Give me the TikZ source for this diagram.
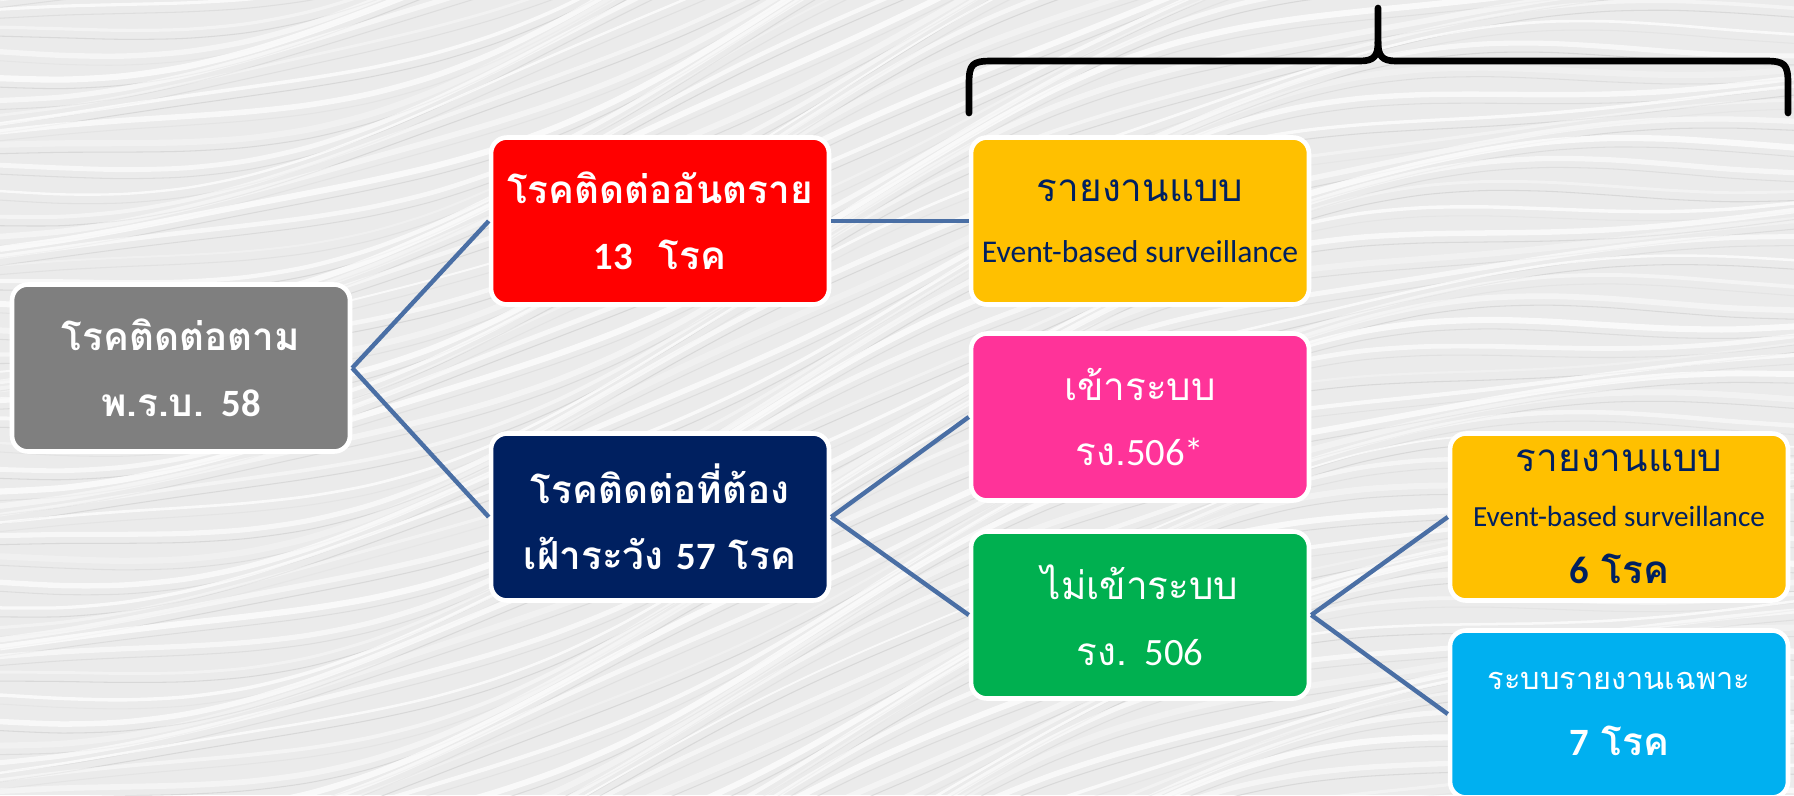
\documentclass[tikz,border=0pt]{standalone}
\usepackage{fontspec}
\setmainfont{Carlito}
\newfontfamily\thaifont[Script=Thai]{Loma}
\usetikzlibrary{calc}
\definecolor{bgc}{HTML}{EBEBEB}
\definecolor{greyc}{HTML}{7F7F7F}
\definecolor{redc}{HTML}{FF0000}
\definecolor{navyc}{HTML}{002060}
\definecolor{yelc}{HTML}{FFC000}
\definecolor{pinkc}{HTML}{FF3399}
\definecolor{greenc}{HTML}{00B050}
\definecolor{cyanc}{HTML}{00B0F0}
\definecolor{linkc}{HTML}{4A6FA5}
\newcommand{\dg}[1]{{\rmfamily #1}}
\tikzset{
  box/.style={draw=white, line width=2.6pt, rounded corners=9pt,
    minimum width=6.76cm, minimum height=3.34cm, align=center,
    inner sep=0pt, text=white,
    font=\thaifont\fontsize{22}{37.5}\selectfont},
  boldbox/.style={box, font=\thaifont\fontsize{22}{37.5}\selectfont\bfseries},
  link/.style={draw=linkc, line width=2.5pt},
  brace/.style={draw=black, line width=3.8pt, line cap=round, line join=round},
  streak/.style={white, line width=#1},
  dstreak/.style={black!20, line width=0.6pt}
}
\begin{document}
\begin{tikzpicture}[x=0.02cm, y=-0.02cm]
\path[use as bounding box] (0,0) rectangle (1794,795);
\begin{scope}
\clip (0,0) rectangle (1794,795);
\fill[bgc] (0,0) rectangle (1794,795);
\foreach \c [count=\i] in {-600,-583,...,1500} {
  \pgfmathsetmacro{\op}{0.25+0.5*abs(sin(\i*53))}
  \pgfmathsetmacro{\lw}{1+2.5*abs(cos(\i*37))}
  \pgfmathsetmacro{\dop}{0.15+0.45*abs(sin(\i*71))}
  \pgfmathsetmacro{\ph}{mod(\i*47,360)}
  \draw[streak=\lw pt, opacity=\op] plot[domain=0:1794, samples=30, smooth]
    (\x, {\c - 0.28*\x + 75*sin(\x/5 + 20) + 12*sin(\x/2 + \ph)});
  \draw[dstreak, opacity=\dop] plot[domain=0:1794, samples=30, smooth]
    (\x, {\c + 9 - 0.28*\x + 75*sin(\x/5 + 20) + 12*sin(\x/2 + \ph)});
}

% boxes
\node[boldbox, fill=greyc] (grey) at (181,368) {โรคติดต่อตาม\\ พ.ร.บ. \dg{58}};
\node[boldbox, fill=redc] (red) at (660,221) {โรคติดต่ออันตราย\\ \dg{13}\ \ โรค};
\node[boldbox, fill=navyc] (navy) at (660,517) {โรคติดต่อที่ต้อง\\ เฝ้าระวัง \dg{57} โรค};
\node[box, fill=yelc, text=navyc] (ebs1) at (1140,221)
  {รายงานแบบ\\[-3pt] {\rmfamily\fontsize{18}{34}\selectfont Event-based surveillance}};
\node[box, fill=pinkc] (pink) at (1140,417) {เข้าระบบ\\ รง.\dg{506*}};
\node[box, fill=greenc] (green) at (1140,615) {ไม่เข้าระบบ\\ รง. \dg{506}};
\node[box, fill=yelc, text=navyc] (ebs2) at (1619,517)
  {รายงานแบบ\\[-6pt] {\rmfamily\fontsize{16.6}{30}\selectfont Event-based surveillance}\\[-5pt] {\bfseries\dg{6} โรค}};
\node[box, fill=cyanc] (cyan) at (1619,714)
  {{\fontsize{17.5}{37}\selectfont ระบบรายงานเฉพาะ}\\ {\bfseries\dg{7} โรค}};

% connectors
\draw[link] (grey.east) -- (red.west);
\draw[link] (grey.east) -- (navy.west);
\draw[link] (red.east) -- (ebs1.west);
\draw[link] (navy.east) -- (pink.west);
\draw[link] (navy.east) -- (green.west);
\draw[link] (green.east) -- (ebs2.west);
\draw[link] (green.east) -- (cyan.west);

% brace
\coordinate (bl) at (969,113);
\coordinate (br) at (1788,113);
\coordinate (bt) at (1378,8);
\draw[brace] (bl) -- (969,84) .. controls (969,64) and (972,61) .. (992,61)
  -- (1360,61) .. controls (1374,61) and (1378,56) .. (1378,42) -- (bt);
\draw[brace] (1378,42) .. controls (1378,56) and (1382,61) .. (1396,61)
  -- (1765,61) .. controls (1785,61) and (1788,64) .. (1788,84) -- (br);
\end{scope}
\end{tikzpicture}
\end{document}
